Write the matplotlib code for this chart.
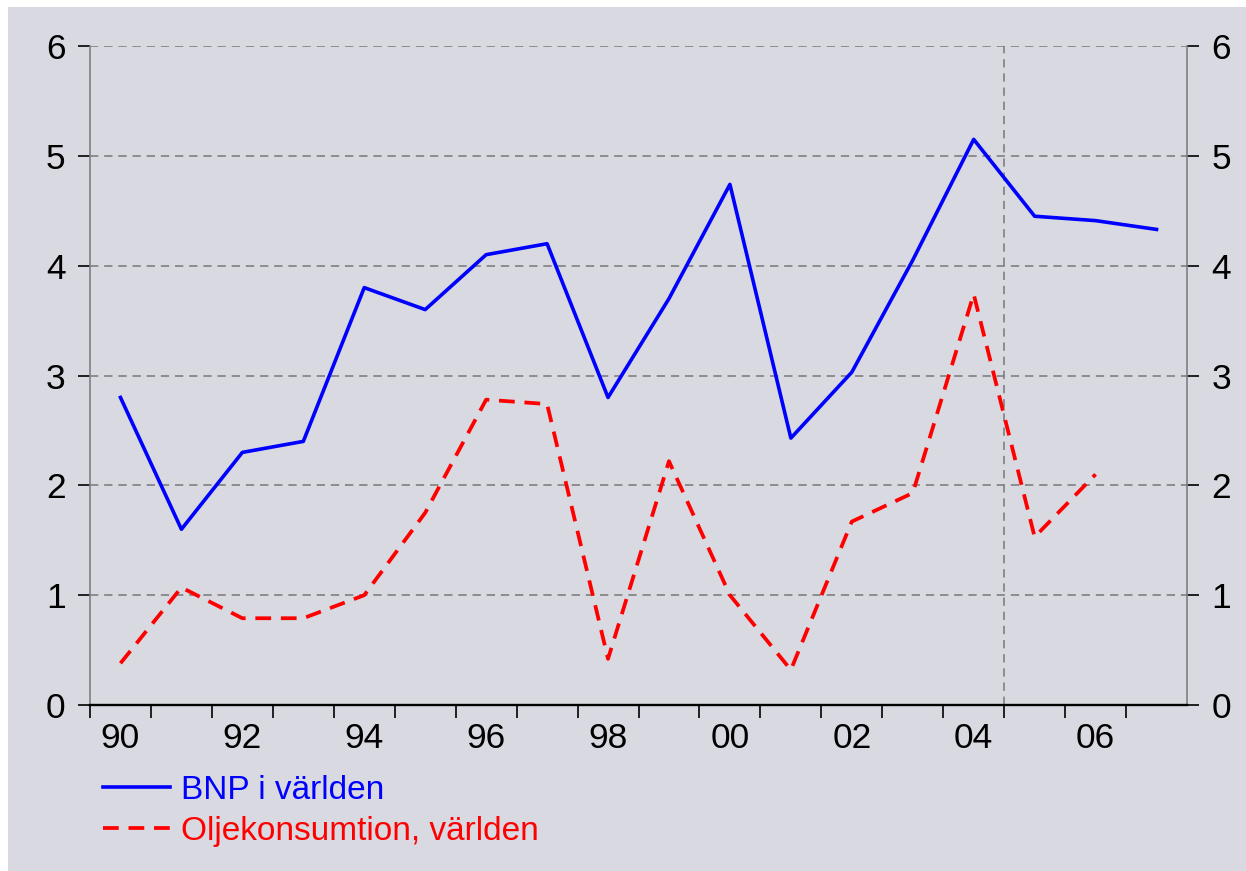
import matplotlib.pyplot as plt
from matplotlib.patches import Rectangle
import numpy as np

# Årlig procentuell förändring
years = list(range(1990, 2008))
bnp = [2.80, 1.60, 2.30, 2.40, 3.80, 3.60, 4.10, 4.20, 2.80, 3.70,
       4.74, 2.43, 3.03, 4.05, 5.15, 4.45, 4.41, 4.33]
olja_years = list(range(1990, 2007))
olja = [0.38, 1.07, 0.79, 0.79, 1.00, 1.75, 2.78, 2.74, 0.42, 2.22,
        1.00, 0.32, 1.67, 1.93, 3.74, 1.53, 2.10]
tick_years = [1990, 1992, 1994, 1996, 1998, 2000, 2002, 2004, 2006]
tick_labels = ["90", "92", "94", "96", "98", "00", "02", "04", "06"]
forecast_start = 2004.5

bg = "#d9d9e1"
plt.rcParams["font.family"] = ["Liberation Sans", "DejaVu Sans"]

fig = plt.figure(figsize=(12.46, 8.71), dpi=100, facecolor="white")
fig.patches.append(Rectangle((8 / 1246, 0), 1 - 8 / 1246, 1 - 7 / 871,
                             transform=fig.transFigure, facecolor=bg,
                             edgecolor="none", zorder=-10))

ax = fig.add_axes([90 / 1246, 1 - 705 / 871, (1187 - 90) / 1246, (705 - 46) / 871])
ax.set_facecolor(bg)

ax.plot(years, bnp, color="#0000ff", lw=2.6, label="BNP i världen", zorder=3)
ax.plot(olja_years, olja, color="#ff0000", lw=2.7, linestyle=(0, (4.2, 2.6)),
        label="Oljekonsumtion, världen", zorder=3)

ax.set_xlim(1989.5, 2007.5)
ax.set_ylim(0, 6)

# grid
for y in range(1, 7):
    ax.axhline(y, color="#808080", lw=1.2, linestyle=(0, (5, 3.5)), zorder=1)
ax.axvline(forecast_start, color="#808080", lw=1.2, linestyle=(0, (5, 3.5)), zorder=1)

# spines
ax.spines["top"].set_visible(False)
ax.spines["bottom"].set_color("black")
ax.spines["bottom"].set_linewidth(1.7)
for s in ["left", "right"]:
    ax.spines[s].set_color("#808080")
    ax.spines[s].set_linewidth(1.2)

# x ticks at year boundaries, labels at year centres
ax.set_xticks(np.arange(1989.5, 2007.0, 1.0))
ax.set_xticklabels([])
ax.set_xticks(tick_years, minor=True)
ax.set_xticklabels(tick_labels, minor=True)
ax.tick_params(axis="x", which="major", direction="out", length=9, width=1.2, color="black")
ax.tick_params(axis="x", which="minor", length=0, pad=12, labelsize=25.5)

ax.set_yticks(range(0, 7))
ax.tick_params(axis="y", which="major", direction="out", length=8.5, width=1.2,
               color="black", labelsize=25.5, pad=9, left=True, right=True,
               labelleft=True, labelright=True)

fig.legend(loc="upper left", bbox_to_anchor=(103 / 1246, 1 - 775 / 871),
           frameon=False, fontsize=24, handlelength=2.0, handletextpad=0.35,
           labelspacing=0.3, labelcolor="linecolor", borderaxespad=0,
           borderpad=0)

fig.savefig("out.png", dpi=100, facecolor="white")
